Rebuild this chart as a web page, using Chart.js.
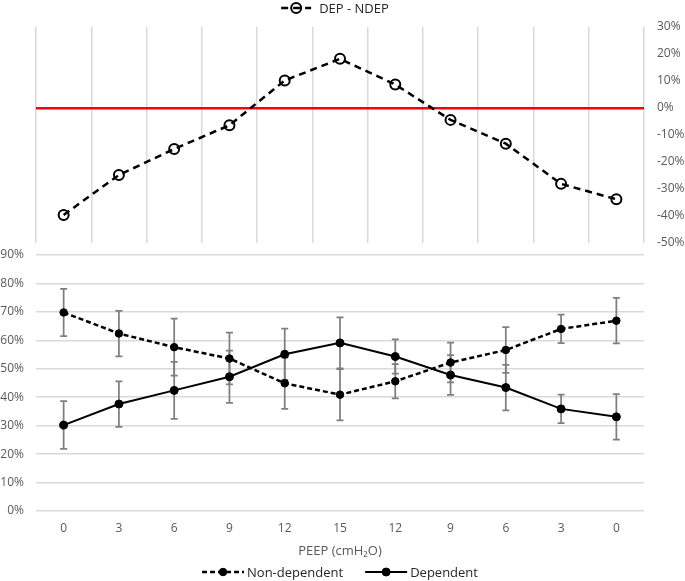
<!DOCTYPE html>
<html>
<head>
<meta charset="utf-8">
<script src="https://cdn.jsdelivr.net/npm/chart.js@4.4.1/dist/chart.umd.min.js"></script>
<style>
  body { margin: 0; background: #fff; }
  #wrap { position: relative; width: 685px; height: 581px; overflow: hidden; }
  canvas { position: absolute; left: 0; }
  #topChart { top: 0; }
  #bottomChart { top: 240px; }
</style>
</head>
<body>
<div id="wrap">
  <canvas id="topChart" width="685" height="255"></canvas>
  <canvas id="bottomChart" width="685" height="341"></canvas>
</div>
<script>
// PEEP steps (up then down)
var peep = ['0', '3', '6', '9', '12', '15', '12', '9', '6', '3', '0'];

// top panel: dependent minus non-dependent (%)
var depMinusNdep = [-39.6, -24.8, -15.2, -6.4, 10.2, 18.2, 8.7, -4.4, -13.2, -28.1, -33.8];

// bottom panel (%), with SD
var nonDependent   = [69.8, 62.4, 57.6, 53.6, 44.9, 40.9, 45.6, 52.2, 56.6, 64.0, 66.9];
var nonDependentSd = [8.3, 8.0, 10.0, 9.1, 9.0, 9.0, 6.0, 7.0, 8.0, 5.0, 8.0];
var dependent      = [30.2, 37.6, 42.4, 47.2, 55.1, 59.1, 54.3, 47.8, 43.4, 35.9, 33.1];
var dependentSd    = [8.4, 8.0, 10.0, 9.2, 9.0, 9.0, 6.0, 7.0, 8.0, 5.0, 8.0];

var fontFamily = "'Open Sans', sans-serif";
var tickColor = '#595959';
var tickFont = { family: fontFamily, size: 12 };

var pct = function(v) { return v + '%'; };

// vertical SD bars, drawn under the lines
var errorBars = {
  id: 'errorBars',
  beforeDatasetsDraw: function(chart) {
    var ctx = chart.ctx;
    var y = chart.scales.y;
    chart.data.datasets.forEach(function(ds, i) {
      if (!ds.errors) return;
      var meta = chart.getDatasetMeta(i);
      meta.data.forEach(function(pt, j) {
        var top = y.getPixelForValue(ds.data[j] + ds.errors[j]);
        var bot = y.getPixelForValue(ds.data[j] - ds.errors[j]);
        ctx.save();
        ctx.strokeStyle = '#7f7f7f';
        ctx.lineWidth = 1.75;
        ctx.beginPath();
        ctx.moveTo(pt.x, top); ctx.lineTo(pt.x, bot);
        ctx.moveTo(pt.x - 3.5, top); ctx.lineTo(pt.x + 3.5, top);
        ctx.moveTo(pt.x - 3.5, bot); ctx.lineTo(pt.x + 3.5, bot);
        ctx.stroke();
        ctx.restore();
      });
    });
  }
};

// simple legend: line sample + marker + label, centred over/under the plot
var lineLegend = {
  id: 'lineLegend',
  afterDraw: function(chart, args, opts) {
    var ctx = chart.ctx;
    ctx.save();
    ctx.font = '13px ' + fontFamily;
    var items = chart.data.datasets.map(function(ds) {
      return { ds: ds, w: opts.iconWidth + opts.textGap + ctx.measureText(ds.label).width };
    });
    var total = items.reduce(function(s, it) { return s + it.w; }, 0) + opts.itemGap * (items.length - 1);
    var x = (chart.chartArea.left + chart.chartArea.right) / 2 - total / 2 + (opts.dx || 0);
    var y = opts.y >= 0 ? opts.y : chart.height + opts.y;
    items.forEach(function(it) {
      var ds = it.ds;
      ctx.strokeStyle = ds.borderColor;
      ctx.lineWidth = ds.borderWidth;
      ctx.setLineDash(ds.borderDash || []);
      ctx.beginPath();
      ctx.moveTo(x, y); ctx.lineTo(x + opts.iconWidth, y);
      ctx.stroke();
      ctx.setLineDash([]);
      ctx.beginPath();
      ctx.arc(x + opts.iconWidth / 2, y, ds.pointRadius, 0, Math.PI * 2);
      if (ds.pointBackgroundColor && ds.pointBackgroundColor !== 'rgba(0,0,0,0)') {
        ctx.fillStyle = ds.pointBackgroundColor;
        ctx.fill();
      }
      ctx.lineWidth = ds.pointBorderWidth || 1;
      ctx.strokeStyle = ds.pointBorderColor;
      ctx.stroke();
      ctx.fillStyle = '#262626';
      ctx.textAlign = 'left';
      ctx.textBaseline = 'middle';
      ctx.fillText(ds.label, x + opts.iconWidth + opts.textGap, y + 1);
      x += it.w + opts.itemGap;
    });
    ctx.restore();
  }
};

new Chart(document.getElementById('topChart'), {
  type: 'line',
  data: {
    labels: peep,
    datasets: [{
      label: 'DEP - NDEP',
      data: depMinusNdep,
      borderColor: '#000',
      borderWidth: 2.5,
      borderDash: [7, 5],
      pointRadius: 5,
      pointBorderWidth: 2,
      pointBorderColor: '#000',
      pointBackgroundColor: 'rgba(0,0,0,0)'
    }]
  },
  options: {
    responsive: false,
    animation: false,
    layout: { padding: { left: 36, right: 0, top: 27, bottom: 12 } },
    plugins: {
      legend: { display: false },
      tooltip: { enabled: false },
      lineLegend: { y: 8, iconWidth: 30, textGap: 8, itemGap: 20, dx: -5 }
    },
    scales: {
      x: {
        offset: true,
        ticks: { display: false },
        grid: { offset: true, color: '#d9d9d9', lineWidth: 1.5, drawTicks: false },
        border: { display: false }
      },
      y: {
        position: 'right',
        min: -50,
        max: 30,
        ticks: { stepSize: 10, callback: pct, color: tickColor, font: tickFont, padding: 0 },
        grid: {
          drawTicks: true,
          tickLength: 13,
          tickColor: 'rgba(0,0,0,0)',
          lineWidth: 2.5,
          color: function(c) { return c.tick && c.tick.value === 0 ? '#ff0000' : 'rgba(0,0,0,0)'; }
        },
        border: { display: false },
        afterFit: function(s) { s.width = 41; }
      }
    }
  },
  plugins: [lineLegend]
});

new Chart(document.getElementById('bottomChart'), {
  type: 'line',
  data: {
    labels: peep,
    datasets: [{
      label: 'Non-dependent',
      data: nonDependent,
      errors: nonDependentSd,
      borderColor: '#000',
      borderWidth: 2.5,
      borderDash: [5, 3],
      pointRadius: 3.75,
      pointBorderWidth: 1,
      pointBorderColor: '#000',
      pointBackgroundColor: '#000'
    }, {
      label: 'Dependent',
      data: dependent,
      errors: dependentSd,
      borderColor: '#000',
      borderWidth: 2,
      pointRadius: 4,
      pointBorderWidth: 1,
      pointBorderColor: '#000',
      pointBackgroundColor: '#000'
    }]
  },
  options: {
    responsive: false,
    animation: false,
    layout: { padding: { left: 0, right: 41, top: 15, bottom: 19 } },
    plugins: {
      legend: { display: false },
      tooltip: { enabled: false },
      lineLegend: { y: -9, iconWidth: 42, textGap: 3, itemGap: 22 }
    },
    scales: {
      x: {
        offset: true,
        grid: { display: false, drawTicks: false },
        border: { display: false },
        ticks: { color: tickColor, font: tickFont, padding: 10 },
        title: {
          display: true,
          text: 'PEEP (cmH₂O)',
          color: tickColor,
          font: { family: fontFamily, size: 13 },
          padding: { top: -2, bottom: 3 }
        }
      },
      y: {
        min: 0,
        max: 90,
        ticks: { stepSize: 10, callback: pct, color: tickColor, font: tickFont, padding: 0 },
        grid: { color: '#d9d9d9', lineWidth: 1.5, drawTicks: true, tickLength: 12, tickColor: 'rgba(0,0,0,0)' },
        border: { display: false },
        afterFit: function(s) { s.width = 36; }
      }
    }
  },
  plugins: [errorBars, lineLegend]
});
</script>
</body>
</html>
